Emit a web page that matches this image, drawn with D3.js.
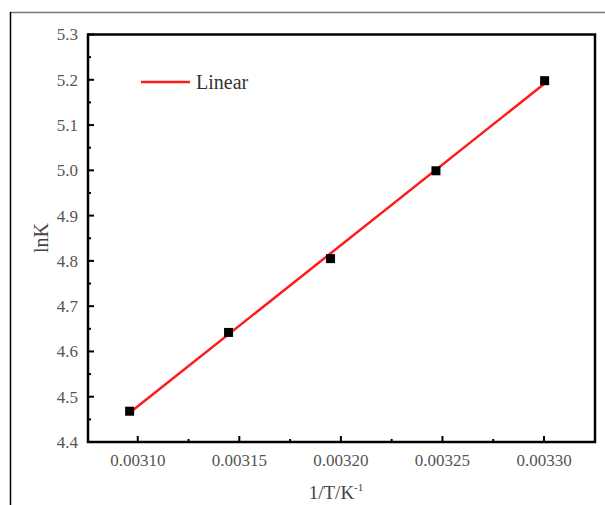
<!DOCTYPE html>
<html><head><meta charset="utf-8">
<script src="https://cdn.jsdelivr.net/npm/d3@7"></script>
<style>body{margin:0;background:#fff}svg{display:block}</style>
</head><body><svg id="c" width="605" height="505"></svg>
<script>
const invT = [0.0030960, 0.0031447, 0.0031949, 0.0032468, 0.0033003];
const lnK = [4.468, 4.642, 4.805, 4.999, 5.198];
const xTicks = [0.00310, 0.00315, 0.00320, 0.00325, 0.00330];
const yTicks = [4.4, 4.5, 4.6, 4.7, 4.8, 4.9, 5.0, 5.1, 5.2, 5.3];
const legendLabel = "Linear";

const svg = d3.select("#c");
const L = 88, R = 595, T = 34.5, B = 442;
const x = d3.scaleLinear().domain([0.0030755, 0.0033251]).range([L, R]);
const y = d3.scaleLinear().domain([4.4, 5.3]).range([B, T]);
const font = "'Liberation Serif','Times New Roman',serif";

// outer frame
svg.append("line").attr("x1",10).attr("x2",605).attr("y1",12.5).attr("y2",12.5).attr("stroke","#777").attr("stroke-width",1.5);
svg.append("line").attr("x1",10.5).attr("x2",10.5).attr("y1",12).attr("y2",505).attr("stroke","#000").attr("stroke-width",1.5);

// fit line
const mx = d3.mean(invT), my = d3.mean(lnK);
const slope = d3.sum(invT.map((v,i)=>(v-mx)*(lnK[i]-my))) / d3.sum(invT.map(v=>(v-mx)*(v-mx)));
const icpt = my - slope*mx;
const x0 = d3.min(invT), x1 = d3.max(invT);
svg.append("line").attr("x1",x(x0)).attr("y1",y(slope*x0+icpt)).attr("x2",x(x1)).attr("y2",y(slope*x1+icpt))
  .attr("stroke","#ff1a1a").attr("stroke-width",2.5);

// points
svg.selectAll("rect.pt").data(invT).enter().append("rect").attr("class","pt")
  .attr("x",(d)=>x(d)-4.5).attr("y",(d,i)=>y(lnK[i])-4.5).attr("width",9).attr("height",9).attr("fill","#000");

// axes
const yMinor = d3.range(4.45, 5.3, 0.1);
const xMinor = [0.003125, 0.003175, 0.003225, 0.003275];
const g = svg.append("g");
yTicks.forEach(t=>{
  g.append("line").attr("x1",L).attr("x2",L+6).attr("y1",y(t)).attr("y2",y(t)).attr("stroke","#000").attr("stroke-width",2);
  g.append("text").attr("x",78).attr("y",y(t)).attr("dy","0.35em").attr("text-anchor","end")
   .attr("font-family",font).attr("font-size",17).attr("fill","#555").text(d3.format(".1f")(t));
});
yMinor.forEach(t=>{
  g.append("line").attr("x1",L).attr("x2",L+3).attr("y1",y(t)).attr("y2",y(t)).attr("stroke","#000").attr("stroke-width",2);
});
xTicks.forEach(t=>{
  g.append("line").attr("x1",x(t)).attr("x2",x(t)).attr("y1",B).attr("y2",B-6).attr("stroke","#000").attr("stroke-width",2);
  g.append("text").attr("x",x(t)).attr("y",460).attr("dy","0.35em").attr("text-anchor","middle")
   .attr("font-family",font).attr("font-size",17).attr("fill","#555").text(d3.format(".5f")(t));
});
xMinor.forEach(t=>{
  g.append("line").attr("x1",x(t)).attr("x2",x(t)).attr("y1",B).attr("y2",B-3).attr("stroke","#000").attr("stroke-width",2);
});
svg.append("rect").attr("x",L).attr("y",T).attr("width",R-L).attr("height",B-T).attr("fill","none").attr("stroke","#000").attr("stroke-width",2.5);

// axis titles
svg.append("text").attr("transform","translate(48,238) rotate(-90)").attr("text-anchor","middle")
  .attr("font-family",font).attr("font-size",20).attr("fill","#444").text("lnK");
const xt = svg.append("text").attr("x",336).attr("y",499).attr("text-anchor","middle")
  .attr("font-family",font).attr("font-size",19).attr("fill","#444");
xt.append("tspan").text("1/T/K");
xt.append("tspan").attr("dy",-8).attr("font-size",11).text("-1");

// legend
svg.append("line").attr("x1",141).attr("x2",190).attr("y1",82).attr("y2",82).attr("stroke","#ff1a1a").attr("stroke-width",2.5);
svg.append("text").attr("x",196).attr("y",82).attr("dy","0.35em").attr("font-family",font).attr("font-size",20).attr("fill","#333").text(legendLabel);
</script></body></html>
